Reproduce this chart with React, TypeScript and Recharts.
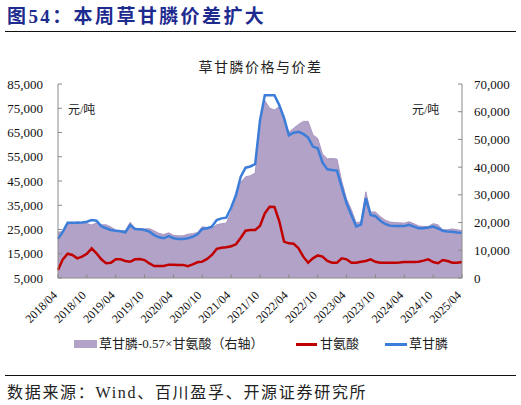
import React from 'react';
import { ComposedChart, Area, Line, XAxis, YAxis } from 'recharts';

const months = [
  '2018/04', '2018/05', '2018/06', '2018/07', '2018/08', '2018/09', '2018/10', '2018/11', '2018/12',
  '2019/01', '2019/02', '2019/03', '2019/04', '2019/05', '2019/06', '2019/07', '2019/08', '2019/09', '2019/10', '2019/11', '2019/12',
  '2020/01', '2020/02', '2020/03', '2020/04', '2020/05', '2020/06', '2020/07', '2020/08', '2020/09', '2020/10', '2020/11', '2020/12',
  '2021/01', '2021/02', '2021/03', '2021/04', '2021/05', '2021/06', '2021/07', '2021/08', '2021/09', '2021/10', '2021/11', '2021/12',
  '2022/01', '2022/02', '2022/03', '2022/04', '2022/05', '2022/06', '2022/07', '2022/08', '2022/09', '2022/10', '2022/11', '2022/12',
  '2023/01', '2023/02', '2023/03', '2023/04', '2023/05', '2023/06', '2023/07', '2023/08', '2023/09', '2023/10', '2023/11', '2023/12',
  '2024/01', '2024/02', '2024/03', '2024/04', '2024/05', '2024/06', '2024/07', '2024/08', '2024/09', '2024/10', '2024/11', '2024/12',
  '2025/01', '2025/02', '2025/03', '2025/04',
];

// 草甘膦 (元/吨, 左轴)
const glyphosate = [
  21200, 24000, 27800, 27800, 27800, 27900, 28200, 28900, 28600, 26400,
  25500, 24800, 24500, 24300, 23850, 26800, 25200, 25080, 24800, 24100,
  22700, 21780, 21370, 22300, 21400, 21080, 21080, 21400, 22000, 23000,
  25200, 25500, 26200, 28900, 29600, 29900, 34000, 39200, 46800, 50500,
  51000, 52000, 70000, 80400, 80400, 80400, 76300, 71000, 63800, 64900,
  65300, 64400, 62900, 59200, 58500, 52600, 49800, 49500, 49300, 42400,
  35800, 31000, 26300, 27000, 37900, 31000, 30500, 28600, 27300, 26600,
  26400, 26400, 26400, 26900, 26200, 25500, 25500, 25800, 26200, 25500,
  24500, 24200, 24100, 23800, 23700,
];

// 甘氨酸 (元/吨, 左轴)
const glycine = [
  8300, 12700, 15000, 14500, 13100, 13800, 15000, 17200, 15200, 12700,
  11100, 11300, 12700, 12700, 12000, 11700, 12700, 12800, 12400, 11000,
  9950, 9950, 9950, 10500, 10500, 10400, 10400, 9900, 10600, 11500,
  11750, 12850, 14500, 17000, 17500, 17700, 18100, 18900, 21600, 24500,
  24800, 24800, 26500, 31700, 34400, 34300, 28500, 20000, 19300, 19100,
  17300, 13800, 11300, 13100, 14300, 13800, 12000, 11300, 11300, 13100,
  12700, 11300, 11300, 11700, 12000, 12700, 11700, 11300, 11300, 11300,
  11300, 11400, 11600, 11600, 11600, 11700, 12150, 12700, 11600, 11100,
  12400, 12000, 11300, 11300, 11600,
];

// 草甘膦-0.57×甘氨酸 (元/吨, 右轴)
const spread = [
  16500, 16800, 19250, 19500, 20300, 20000, 19650, 19100, 19900, 19200,
  19200, 18400, 17300, 17100, 17000, 20100, 18000, 17800, 17700, 17800,
  17000, 16100, 15700, 16300, 15400, 15200, 15200, 15800, 16000, 16400,
  18500, 18200, 17900, 19200, 19600, 19800, 23700, 28400, 34500, 36500,
  36900, 37900, 54900, 64000, 61300, 60600, 61800, 56500, 52600, 54000,
  55400, 56500, 56500, 51700, 50300, 44700, 43000, 43100, 42900, 34900,
  28600, 24600, 19900, 20300, 31100, 23800, 23800, 22200, 20900, 20200,
  20000, 19900, 19800, 20300, 19600, 18800, 18600, 18600, 19600, 19200,
  17400, 17400, 17700, 17400, 17100,
];

const leftTicks = [5000, 15000, 25000, 35000, 45000, 55000, 65000, 75000, 85000];
const rightTicks = [0, 10000, 20000, 30000, 40000, 50000, 60000, 70000];

const data = months.map((m, i) => ({
  month: m,
  glyphosate: glyphosate[i],
  glycine: glycine[i],
  spread: spread[i],
}));

const AXIS = '#8a8a8a';
const SERIF = '"Liberation Serif", "Times New Roman", serif';
const MIX = '"Liberation Serif", "Noto Sans CJK SC", sans-serif';
const fmt = (v: number) => v.toLocaleString('en-US');

const LeftTick = (p: any) => {
  const { x, y, payload } = p;
  return (
    <g>
      <line x1={x} x2={x + 4} y1={y} y2={y} stroke={AXIS} strokeWidth={1} />
      <text x={x - 15} y={y} dy="0.35em" textAnchor="end" fontFamily={SERIF} fontSize={13} fill="#111">
        {fmt(payload.value)}
      </text>
    </g>
  );
};

const RightTick = (p: any) => {
  const { x, y, payload } = p;
  return (
    <g>
      <line x1={x} x2={x - 4} y1={y} y2={y} stroke={AXIS} strokeWidth={1} />
      <text x={x + 12} y={y} dy="0.35em" textAnchor="start" fontFamily={SERIF} fontSize={13} fill="#111">
        {fmt(payload.value)}
      </text>
    </g>
  );
};

const BottomTick = (p: any) => {
  const { x, y, payload } = p;
  const ax = x;
  const ay = y + 18;
  return (
    <g>
      <line x1={x} x2={x} y1={y} y2={y - 4} stroke={AXIS} strokeWidth={1} />
      <text
        x={ax}
        y={ay}
        textAnchor="end"
        transform={`rotate(-45 ${ax} ${ay})`}
        fontFamily={SERIF}
        fontSize={12}
        fill="#111"
      >
        {payload.value}
      </text>
    </g>
  );
};

const abs = (s: React.CSSProperties): React.CSSProperties => ({ position: 'absolute', whiteSpace: 'nowrap', ...s });

export default function App() {
  return (
    <div style={{ position: 'absolute', left: 0, top: 0, width: 521, height: 405, background: '#fff', overflow: 'hidden' }}>
      <div style={abs({ left: 0, top: 0 })}>
        <ComposedChart width={521} height={405} data={data} margin={{ top: 84, right: 0, bottom: 87, left: 0 }}>
          <XAxis
            dataKey="month"
            interval={5}
            tickLine={false}
            tickSize={0}
            tickMargin={0}
            height={40}
            axisLine={{ stroke: AXIS }}
            tick={<BottomTick />}
          />
          <YAxis
            yAxisId="left"
            orientation="left"
            width={58}
            domain={[5000, 85000]}
            ticks={leftTicks}
            interval={0}
            tickLine={false}
            tickSize={0}
            tickMargin={0}
            axisLine={{ stroke: AXIS }}
            tick={<LeftTick />}
          />
          <YAxis
            yAxisId="right"
            orientation="right"
            width={59}
            domain={[0, 70000]}
            ticks={rightTicks}
            interval={0}
            tickLine={false}
            tickSize={0}
            tickMargin={0}
            axisLine={{ stroke: AXIS }}
            tick={<RightTick />}
          />
          <Area
            yAxisId="right"
            type="linear"
            dataKey="spread"
            fill="#B3A2C7"
            fillOpacity={1}
            stroke="#A994C2"
            strokeWidth={1}
            dot={false}
            activeDot={false}
            isAnimationActive={false}
          />
          <Line
            yAxisId="left"
            type="linear"
            dataKey="glycine"
            stroke="#C00000"
            strokeWidth={2.5}
            dot={false}
            activeDot={false}
            isAnimationActive={false}
          />
          <Line
            yAxisId="left"
            type="linear"
            dataKey="glyphosate"
            stroke="#3B7DD8"
            strokeWidth={2.5}
            dot={false}
            activeDot={false}
            isAnimationActive={false}
          />
        </ComposedChart>
      </div>

      <div style={abs({ left: 7, top: 5, fontFamily: MIX, fontSize: 19, fontWeight: 'bold', color: '#1d2b8f', lineHeight: '23px', letterSpacing: 2.4 })}>
        图54：本周草甘膦价差扩大
      </div>
      <div style={abs({ left: 5, top: 31, width: 511, height: 1, background: '#111' })} />

      <div style={abs({ left: 0, width: 521, textAlign: 'center', top: 59, fontFamily: MIX, fontSize: 14, lineHeight: '18px', letterSpacing: 1.5, color: '#222' })}>
        草甘膦价格与价差
      </div>

      <div style={abs({ left: 68, top: 103, fontFamily: MIX, fontSize: 12, lineHeight: '15px', color: '#222' })}>元/吨</div>
      <div style={abs({ left: 412, top: 103, fontFamily: MIX, fontSize: 12, lineHeight: '15px', color: '#222' })}>元/吨</div>

      <div style={abs({ left: 74, top: 340, width: 23, height: 8, background: '#B3A2C7' })} />
      <div style={abs({ left: 99, top: 336, fontFamily: MIX, fontSize: 13, lineHeight: '16px', color: '#222' })}>草甘膦-0.57×甘氨酸（右轴）</div>
      <div style={abs({ left: 296, top: 343, width: 21, height: 3, background: '#C00000' })} />
      <div style={abs({ left: 320, top: 336, fontFamily: MIX, fontSize: 13, lineHeight: '16px', color: '#222' })}>甘氨酸</div>
      <div style={abs({ left: 385, top: 343, width: 22, height: 3, background: '#3B7DD8' })} />
      <div style={abs({ left: 409, top: 336, fontFamily: MIX, fontSize: 13, lineHeight: '16px', color: '#222' })}>草甘膦</div>

      <div style={abs({ left: 5, top: 375, width: 511, height: 1, background: '#111' })} />
      <div style={abs({ left: 7, top: 383, fontFamily: MIX, fontSize: 16, lineHeight: '20px', letterSpacing: 1.7, color: '#222' })}>
        数据来源：Wind、百川盈孚、开源证券研究所
      </div>
    </div>
  );
}
